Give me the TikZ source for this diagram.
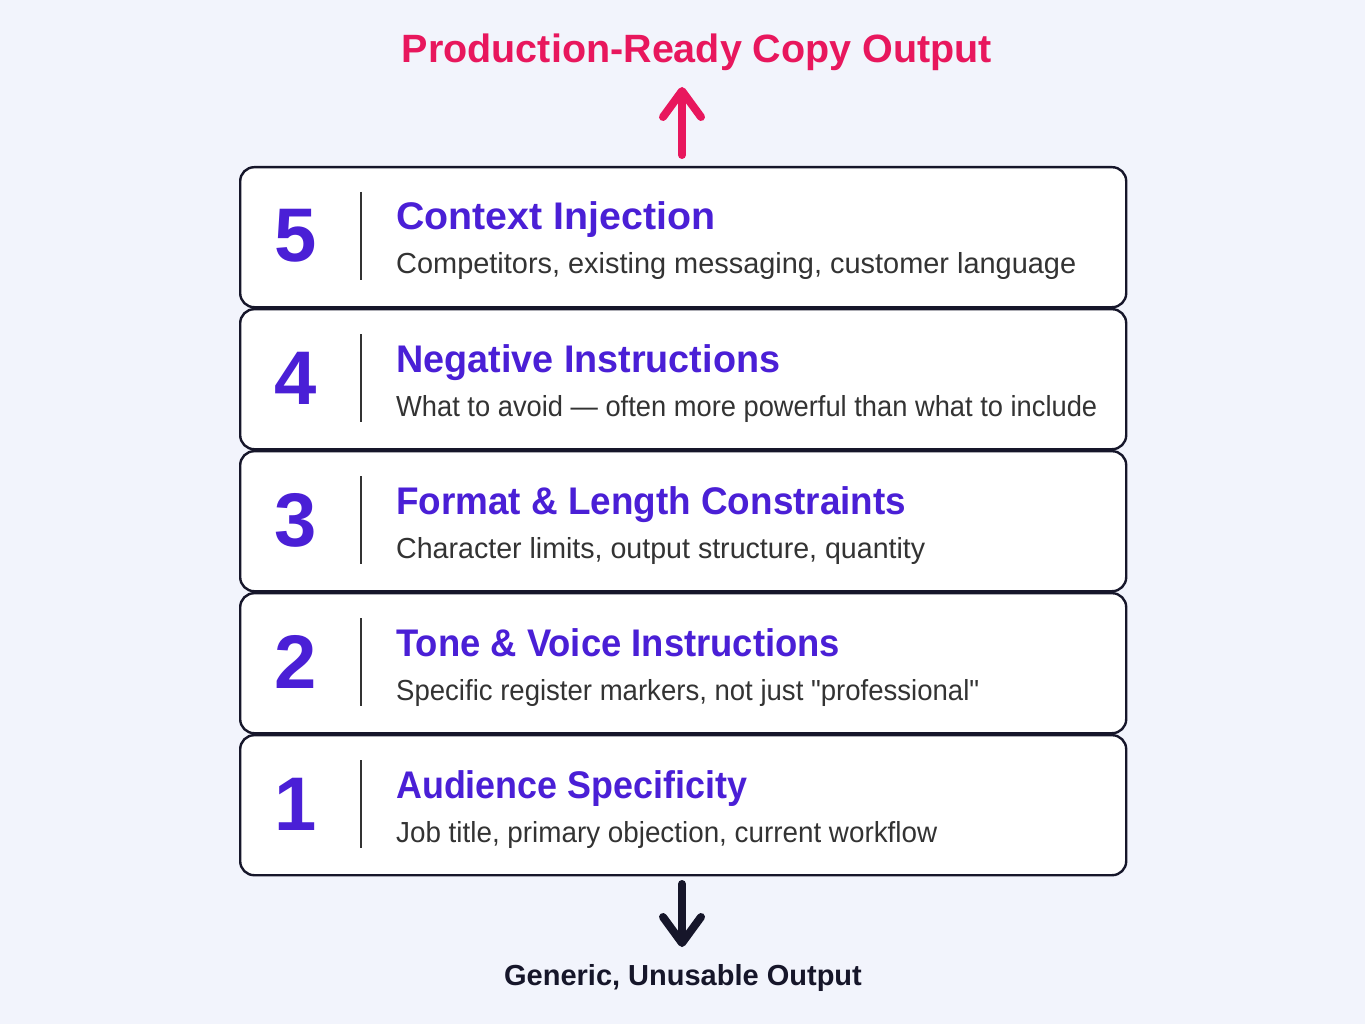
\documentclass[tikz,border=0pt]{standalone}
\usepackage{fontspec}
\usepackage{graphicx}
\setmainfont{Liberation Sans}[Ligatures=TeXOff]
\usetikzlibrary{arrows.meta}
\definecolor{bgc}{HTML}{F2F4FC}
\definecolor{purp}{HTML}{4A1FD6}
\definecolor{pinkc}{HTML}{E8175D}
\definecolor{navy}{HTML}{16162A}
\definecolor{descc}{HTML}{333333}
\tikzset{
  stepbox/.style={draw=navy, line width=2.4pt, fill=white, rounded corners=14pt,
    minimum width=886pt, minimum height=140pt, anchor=north west, inner sep=0pt},
  numtxt/.style={text=purp, font=\fontsize{76}{80}\selectfont\bfseries, inner sep=0pt},
  titletxt/.style={text=purp, font=\fontsize{38.5}{40}\selectfont\bfseries, anchor=base west, inner sep=0pt},
  desctxt/.style={text=descc, font=\fontsize{29}{32}\selectfont, anchor=base west, inner sep=0pt},
  divider/.style={draw=descc, line width=1.6pt},
  uparrow/.style={draw=pinkc, line width=8pt, line cap=round, -{Straight Barb[length=26pt,width=38pt,round]}},
  downarrow/.style={draw=navy, line width=8pt, line cap=round, -{Straight Barb[length=26pt,width=38pt,round]}},
}
\begin{document}
\begin{tikzpicture}[x=1pt,y=-1pt]
\fill[bgc] (0,0) rectangle (1365,1024);
\useasboundingbox (0,0) rectangle (1365,1024);
\node[text=pinkc, font=\fontsize{39.5}{42}\selectfont\bfseries, anchor=base, inner sep=0pt] (top) at (697,63) {Production-Ready Copy Output};
\node[text=navy, font=\fontsize{29}{32}\selectfont\bfseries, anchor=base, inner sep=0pt] (bot) at (683,985) {Generic, Unusable Output};
\foreach \k/\n/\t/\tw/\d/\dw in {
  0/5/Context Injection/319/{Competitors, existing messaging, customer language}/680,
  1/4/Negative Instructions/384/{What to avoid — often more powerful than what to include}/701,
  2/3/Format \& Length Constraints/510/{Character limits, output structure, quantity}/529,
  3/2/Tone \& Voice Instructions/444/{Specific register markers, not just "professional"}/583,
  4/1/Audience Specificity/351/{Job title, primary objection, current workflow}/541}{
  \pgfmathsetmacro{\yt}{166+142*\k}
  \node[stepbox] (b\n) at (239,\yt) {};
  \node[numtxt] (n\n) at (296,\yt+70) {\n};
  \draw[divider] (361,\yt+26) -- (361,\yt+114);
  \node[titletxt] (t\n) at (396,\yt+64) {\resizebox{\tw pt}{\height}{\t}};
  \node[desctxt] (d\n) at (396,\yt+108) {\resizebox{\dw pt}{\height}{\d}};
}
\coordinate (upS) at (682,155);
\coordinate (upE) at (682,87);
\draw[uparrow] (upS) -- (upE);
\coordinate (dnS) at (682,884);
\coordinate (dnE) at (682,947);
\draw[downarrow] (dnS) -- (dnE);
\end{tikzpicture}
\end{document}
